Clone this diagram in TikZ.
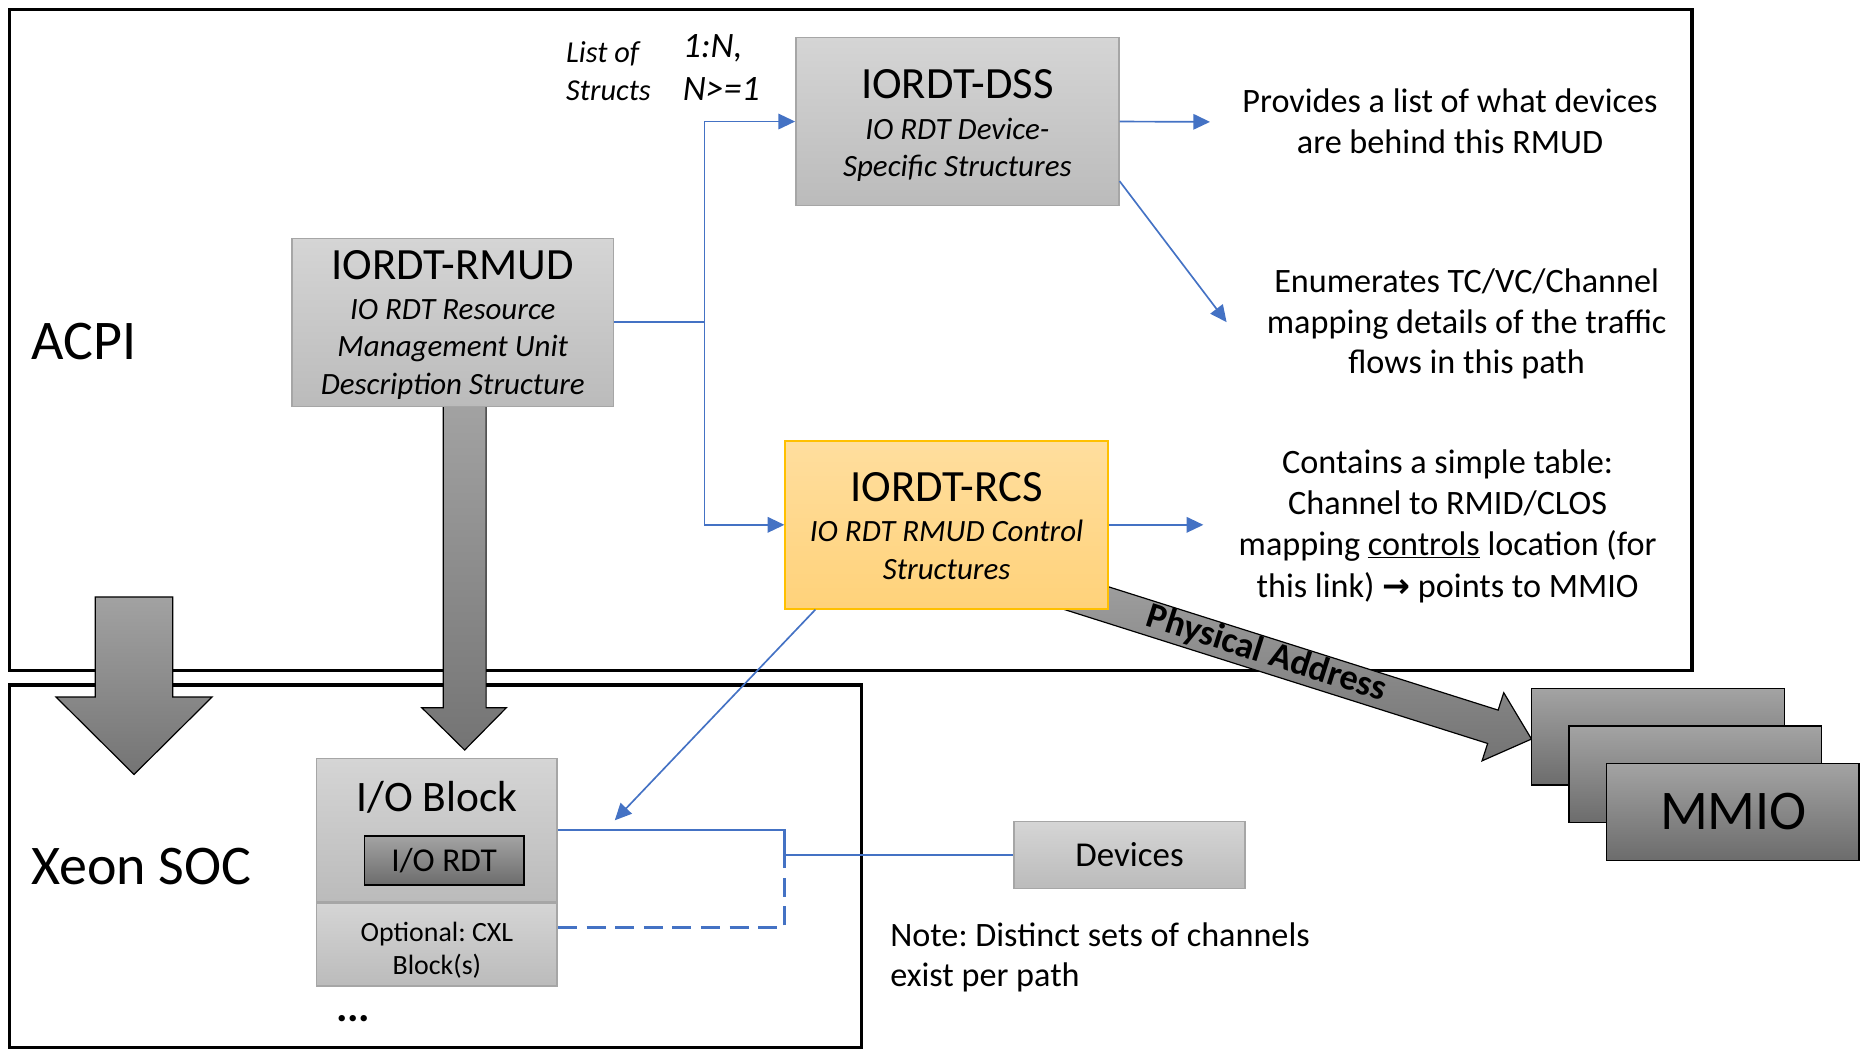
\documentclass[tikz,border=0pt]{standalone}
\usepackage{fontspec}
\setmainfont{Carlito}
\newfontfamily\arrowfont{DejaVu Sans}
\usetikzlibrary{arrows.meta,calc}
\definecolor{blueline}{HTML}{4472C4}
\definecolor{gtop}{HTML}{D5D5D5}
\definecolor{gbot}{HTML}{BBBBBB}
\definecolor{gborder}{HTML}{A6A6A6}
\definecolor{otop}{HTML}{FFDE9E}
\definecolor{obot}{HTML}{FFD27A}
\definecolor{oborder}{HTML}{FFC000}
\definecolor{dtop}{HTML}{A3A3A3}
\definecolor{dbot}{HTML}{6C6C6C}
\definecolor{atop}{HTML}{A2A2A2}
\definecolor{abot}{HTML}{747474}
\frenchspacing
\begin{document}
\begin{tikzpicture}[x=1pt,y=-1pt,
  frame/.style={draw=black, line width=2.8pt, inner sep=0pt},
  graybox/.style={draw=gborder, line width=1.3pt, top color=gtop, bottom color=gbot, inner sep=0pt},
  rcsbox/.style={draw=oborder, line width=1.3pt, top color=otop, bottom color=obot, inner sep=0pt},
  darkbox/.style={draw=black, line width=1.2pt, top color=dtop, bottom color=dbot, inner sep=0pt},
  bigarrow/.style={draw=black, line width=1pt, top color=atop, bottom color=abot},
  link/.style={draw=blueline, line width=1.4pt, -{Triangle[length=14pt,width=13pt]}},
  wire/.style={draw=blueline, line width=2.2pt},
  dashwire/.style={draw=blueline, line width=2.2pt, dash pattern=on 16pt off 8pt},
  title/.style={font=\fontsize{37.5}{41}\selectfont, inner sep=0pt, anchor=base},
  sub/.style={font=\fontsize{26}{30}\selectfont\itshape, anchor=base, inner sep=0pt},
  body/.style={font=\fontsize{28.7}{33}\selectfont, anchor=base, inner sep=0pt},
  bigtext/.style={font=\fontsize{47}{52}\selectfont, inner sep=0pt, anchor=base},
]
\useasboundingbox (0,0) rectangle (1567,885.5);

% outer frames
\node[frame, minimum width=1412pt, minimum height=555pt] (acpibox) at (714,285.5) {};
\node[frame, minimum width=715pt, minimum height=304pt] (xeonbox) at (365.5,727) {};

% big gray arrows
\path[bigarrow] (80,501) -- (145,501) -- (145,585) -- (178,585) -- (112.5,650) -- (47,585) -- (80,585) -- cycle;
\path[bigarrow] (372,341) -- (408,341) -- (408,594) -- (425,594) -- (390,629.5) -- (354,594) -- (372,594) -- cycle;

% physical address arrow
\path[bigarrow] (870.0,473.4) -- (1257.4,596.0) -- (1262.1,581.4) -- (1285.4,620.3) -- (1243.9,638.6) -- (1248.6,624.0) -- (861.2,501.4) -- cycle;
\node[font=\fontsize{30.5}{33}\selectfont\bfseries, rotate=-17.6, inner sep=0pt] (patext) at (1063,549) {Physical Address};

% boxes
\node[graybox, minimum width=271pt, minimum height=141pt] (dss) at (803.5,102) {};
\node[graybox, minimum width=270pt, minimum height=141pt] (rmud) at (380,270.5) {};
\node[rcsbox, minimum width=271pt, minimum height=141pt] (rcs) at (794.5,440.5) {};
\node[graybox, minimum width=202pt, minimum height=120pt] (iob) at (366.7,696.6) {};
\node[darkbox, minimum width=134pt, minimum height=41pt, font=\fontsize{28}{32}\selectfont] (iordt) at (372.8,722.3) {I/O RDT};
\node[graybox, minimum width=202pt, minimum height=69.6pt] (cxl) at (366.7,792.8) {};
\node[graybox, minimum width=194pt, minimum height=56pt, font=\fontsize{29.3}{33}\selectfont] (dev) at (948,717.6) {Devices};
\node[darkbox, minimum width=212.4pt, minimum height=81pt] (mmioa) at (1391.6,618.5) {};
\node[darkbox, minimum width=212pt, minimum height=81pt] (mmiob) at (1423,649.9) {};
\node[darkbox, minimum width=212pt, minimum height=81pt] (mmioc) at (1454.3,681.5) {};

% box texts
\node[title] (dsst) at (803.5,83) {IORDT-DSS};
\node[sub] (dss1) at (803.5,117) {IO RDT Device-};
\node[sub] (dss2) at (803.5,148) {Specific Structures};
\node[title] (rmudt) at (380,234.6) {IORDT-RMUD};
\node[sub] (rmud1) at (380,268.5) {IO RDT Resource};
\node[sub] (rmud2) at (380,299.5) {Management Unit};
\node[sub] (rmud3) at (380,331) {Description Structure};
\node[title] (rcst) at (794.5,420.5) {IORDT-RCS};
\node[sub] (rcs1) at (794.5,454.6) {IO RDT RMUD Control};
\node[sub] (rcs2) at (794.5,486) {Structures};
\node[font=\fontsize{36.5}{40}\selectfont, anchor=base, inner sep=0pt] (iobt) at (366.7,681) {I/O Block};
\node[font=\fontsize{23.4}{27}\selectfont, anchor=base, inner sep=0pt] (cxl1) at (366.7,790) {Optional: CXL};
\node[font=\fontsize{23.4}{27}\selectfont, anchor=base, inner sep=0pt] (cxl2) at (366.7,818) {Block(s)};
\node[font=\fontsize{36}{40}\selectfont\bfseries, anchor=base, inner sep=0pt] (dots) at (296.5,857.5) {...};

% big labels
\node[bigtext, anchor=base west] (acpit) at (26,302) {ACPI};
\node[bigtext, anchor=base west] (xeont) at (26,742.5) {Xeon SOC};
\node[bigtext] (mmiot) at (1455,696.6) {MMIO};

% small labels
\node[font=\fontsize{25.5}{29}\selectfont\itshape, anchor=base west, inner sep=0pt] (list1) at (475,52.8) {List of};
\node[font=\fontsize{25.5}{29}\selectfont\itshape, anchor=base west, inner sep=0pt] (list2) at (475,84) {Structs};
\node[font=\fontsize{30}{34}\selectfont\itshape, anchor=base west, inner sep=0pt] (card1) at (573,48) {1:N,};
\node[font=\fontsize{30}{34}\selectfont\itshape, anchor=base west, inner sep=0pt] (card2) at (573,84) {N>=1};

% descriptions
\node[body] (prov1) at (1217,94.5) {Provides a list of what devices};
\node[body] (prov2) at (1217,128.6) {are behind this RMUD};
\node[body] (enum1) at (1231,245.9) {Enumerates TC/VC/Channel};
\node[body] (enum2) at (1231,279.8) {mapping details of the traffic};
\node[body] (enum3) at (1231,313.7) {flows in this path};
\node[body] (cont1) at (1215,397.5) {Contains a simple table:};
\node[body] (cont2) at (1215,431.5) {Channel to RMID/CLOS};
\node[body] (cont3) at (1215,466.3) {mapping \underline{controls} location (for};
\node[body] (cont4) at (1215,501.6) {this link) {\arrowfont\bfseries\fontsize{28}{30}\selectfont →} points to MMIO};
\node[body, anchor=base west] (note1) at (747,794.5) {Note: Distinct sets of channels};
\node[body, anchor=base west] (note2) at (747,828) {exist per path};

% connectors
\draw[link] (rmud.east) -| ($(dss.west)+(-76,0)$) -- (dss.west);
\draw[link] (rmud.east) -| ($(rcs.west)+(-67,0)$) -- (rcs.west);
\coordinate (provpt) at (1015.6,102.3);
\coordinate (enumpt) at (1029.5,270.4);
\coordinate (contpt) at (1010,440.5);
\coordinate (iopt) at (516,688.5);
\draw[link] (dss.east) -- (provpt);
\draw[link] ($(dss.east)+(0,50)$) -- (enumpt);
\draw[link] (rcs.east) -- (contpt);
\draw[link] ($(rcs.south west)+(26,0)$) -- (iopt);
\draw[dashwire] ($(cxl.north east)!0.3!(cxl.south east)$) -| ($(dev.west)+(-192,0)$) -- (dev.west);
\draw[wire] (iob.east) -| ($(dev.west)+(-192,0)$) -- (dev.west);
\end{tikzpicture}
\end{document}
